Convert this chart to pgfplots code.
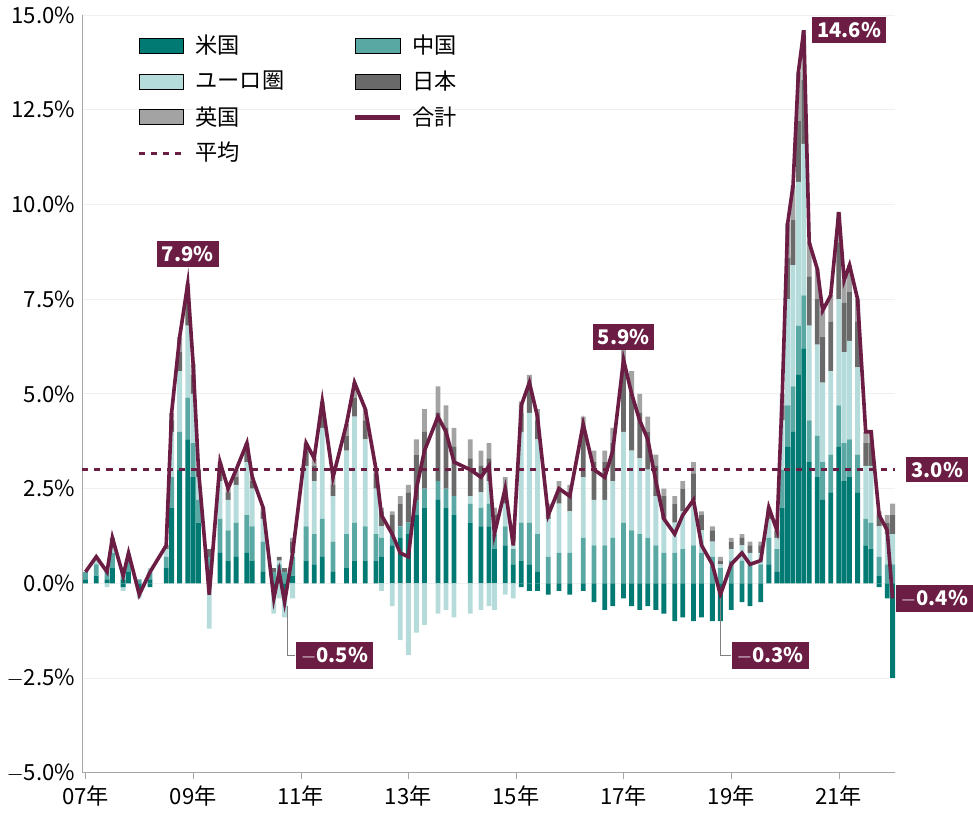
\documentclass[border=0pt]{standalone}
\usepackage{pgfplots}
\usepackage{pgfplotstable}
\pgfplotsset{compat=1.18}
\usepackage{fontspec}
\setmainfont{Noto Sans CJK JP}
\definecolor{cus}{HTML}{007A73}
\definecolor{ccn}{HTML}{5AA8A4}
\definecolor{ceu}{HTML}{B5DCDB}
\definecolor{cjp}{HTML}{6A6A6A}
\definecolor{cuk}{HTML}{A3A3A3}
\definecolor{ctot}{HTML}{6B1D44}
\pgfplotstableread{
x us cn eu jp uk usn eun
2007.0 0.1 0.2 0 0 0 0 0
2007.2 0.2 0.3 0.2 0 0 0 0
2007.4 0.1 0.2 0.1 0 0 0 -0.1
2007.5 0.4 0.4 0.3 0.1 0 0 0
2007.7 0.1 0.2 0.1 0 0 -0.1 -0.1
2007.8 0.3 0.3 0.2 0 0 0 0
2008.0 0 0.1 0 0 0 -0.2 -0.2
2008.2 0.1 0.2 0.1 0 0 -0.1 0
2008.5 0.4 0.3 0.2 0.1 0 0 0
2008.6 2.0 0.8 1.2 0.3 0.2 0 0
2008.75 3.0 1.0 1.6 0.5 0.4 0 0
2008.9 3.8 1.1 1.9 0.6 0.5 0 0
2009.0 2.8 0.9 1.3 0.5 0.3 0 0
2009.1 1.6 0.6 0.6 0.2 0 0 0
2009.3 0.3 0.4 0 0.2 0 0 -1.2
2009.5 0.8 0.9 1.0 0.3 0.2 0 0
2009.65 0.6 0.8 0.8 0.2 0.1 0 0
2009.8 0.7 0.9 1.0 0.2 0.2 0 0
2010.0 0.8 1.0 1.4 0.3 0.2 0 0
2010.1 0.6 0.9 1.0 0.2 0.1 0 0
2010.3 0.3 0.8 0.6 0.2 0.1 0 0
2010.5 0 0.3 0 0.1 0 -0.2 -0.6
2010.6 0.1 0.4 0.1 0.1 0 0 -0.4
2010.7 0 0.3 0 0.1 0 -0.2 -0.7
2010.85 0.2 0.5 0.1 0.3 0.1 0 -0.4
2011.1 0.6 0.9 1.6 0.4 0.2 0 0
2011.25 0.5 0.8 1.4 0.4 0.2 0 0
2011.4 0.7 1.0 2.4 0.4 0.3 0 0
2011.6 0.3 0.8 1.2 0.3 0.2 0 0
2011.85 0.4 0.9 2.2 0.4 0.3 0 0
2012.0 0.6 1.0 2.8 0.5 0.4 0 0
2012.2 0.6 0.9 2.3 0.5 0.3 0 0
2012.4 0.6 0.7 1.2 0.4 0.1 0 0
2012.5 0.7 0.5 0.3 0.4 0.1 0 -0.2
2012.7 1.0 0.3 0 0.5 0.1 0 -0.6
2012.85 1.2 0.3 0 0.6 0.2 0 -1.5
2013.0 1.3 0.3 0 0.8 0.2 0 -1.9
2013.15 1.8 0.4 0 1.2 0.4 0 -1.3
2013.3 2.0 0.5 0 1.5 0.6 0 -1.1
2013.55 2.2 0.5 0 1.8 0.7 0 -0.8
2013.7 2.0 0.5 0 1.6 0.6 0 -0.7
2013.85 1.8 0.5 0 1.3 0.5 0 -0.9
2014.15 1.6 0.5 0.2 1.0 0.5 0 -0.8
2014.35 1.5 0.5 0.4 0.7 0.4 0 -0.7
2014.5 1.5 0.6 0.6 0.6 0.4 0 -0.6
2014.6 0.9 0.4 0.2 0.3 0.2 0 -0.7
2014.8 1.0 0.5 0.6 0.4 0.3 0 -0.3
2014.95 0.5 0.4 0.2 0.2 0.1 0 -0.4
2015.1 0.6 1.0 2.4 0.5 0.3 -0.1 0
2015.25 0.5 1.1 2.9 0.6 0.4 -0.2 0
2015.4 0.3 1.0 2.5 0.5 0.3 -0.2 0
2015.6 0 0.7 1.0 0.3 0.1 -0.3 0
2015.8 0 0.8 1.3 0.4 0.2 -0.2 0
2016.0 0 0.8 1.1 0.5 0.2 -0.3 0
2016.25 0 1.2 1.6 1.2 0.4 -0.2 0
2016.45 0 1.0 1.2 1.0 0.3 -0.5 0
2016.65 0 1.0 1.2 1.0 0.3 -0.7 0
2016.8 0 1.2 1.5 1.0 0.4 -0.6 0
2017.0 0 1.6 2.4 1.6 0.7 -0.4 0
2017.15 0 1.4 2.1 1.5 0.6 -0.6 0
2017.3 0 1.3 2.0 1.2 0.5 -0.7 0
2017.45 0 1.2 1.8 1.0 0.4 -0.6 0
2017.6 0 1.0 1.3 0.8 0.3 -0.7 0
2017.75 0 0.8 0.9 0.6 0.2 -0.8 0
2017.95 0 0.8 0.8 0.5 0.2 -1.0 0
2018.1 0 0.9 1.0 0.6 0.2 -0.9 0
2018.3 0 1.0 1.2 0.7 0.3 -1.0 0
2018.45 0 0.8 0.6 0.4 0.1 -0.9 0
2018.65 0 0.7 0.4 0.3 0.1 -1.0 0
2018.8 0 0.4 0.1 0.1 0.1 -1.0 0
2019.0 0 0.6 0.3 0.2 0.1 -0.7 0
2019.2 0 0.6 0.4 0.2 0.1 -0.5 0
2019.35 0 0.5 0.3 0.2 0.1 -0.6 0
2019.55 0 0.5 0.3 0.2 0.1 -0.5 0
2019.7 0.5 0.7 0.5 0.2 0.1 0 0
2019.85 0.3 0.6 0.3 0.2 0 0 0
2019.95 2.0 1.0 1.3 0.4 0.3 0 0
2020.05 3.6 1.1 2.8 1.1 0.9 0 0
2020.15 4.0 1.2 3.2 1.2 0.9 0 0
2020.25 5.5 1.3 3.8 1.6 1.3 0 0
2020.35 6.2 1.4 4.0 1.7 1.3 0 0
2020.45 3.2 1.1 2.5 1.3 0.9 0 0
2020.6 2.8 1.1 2.4 1.2 0.8 0 0
2020.7 2.2 1.0 2.1 1.2 0.7 0 0
2020.85 2.4 1.0 2.2 1.3 0.7 0 0
2021.0 3.6 1.1 2.8 1.5 0.8 0 0
2021.1 2.7 1.0 2.4 1.3 0.6 0 0
2021.2 2.8 1.0 2.6 1.3 0.7 0 0
2021.35 2.4 1.0 2.3 1.2 0.6 0 0
2021.5 1.0 0.7 1.4 0.6 0.3 0 0
2021.6 0.9 0.7 1.5 0.6 0.3 0 0
2021.75 0.2 0.5 0.8 0.3 0.1 -0.1 0
2021.9 0 0.5 0.8 0.3 0.2 -0.4 0
2022.0 0 0.5 0.8 0.5 0.3 -2.5 0
}\data
\pgfplotsset{base/.style={
  scale only axis, width=403pt, height=375.5pt,
  xmin=2006.94, xmax=2022.05, ymin=-5, ymax=15,
  clip=false}}
\begin{document}
\begin{tikzpicture}
\begin{axis}[base,
  axis x line*=bottom, axis y line*=left,
  axis line style={gray!70},
  xtick={2007,2009,...,2021},
  xticklabels={07年,09年,11年,13年,15年,17年,19年,21年},
  ytick={-5,-2.5,0,2.5,5,7.5,10,12.5,15},
  yticklabels={$-$5.0\%,$-$2.5\%,0.0\%,2.5\%,5.0\%,7.5\%,10.0\%,12.5\%,15.0\%},
  ymajorgrids, grid style={gray!12},
  tick style={gray!70}, ytick style={draw=none},
  tick label style={font=\fontsize{11}{13}\selectfont},
  xtick align=outside, major tick length=3pt,
  ybar stacked, bar width=2.4pt]
\addplot[fill=cus, draw=none] table[x=x,y=us]{\data};
\addplot[fill=ccn, draw=none] table[x=x,y=cn]{\data};
\addplot[fill=ceu, draw=none] table[x=x,y=eu]{\data};
\addplot[fill=cjp, draw=none] table[x=x,y=jp]{\data};
\addplot[fill=cuk, draw=none] table[x=x,y=uk]{\data};
\end{axis}
\begin{axis}[base, hide axis, ybar stacked, bar width=2.4pt]
\addplot[fill=cus, draw=none] table[x=x,y=usn]{\data};
\addplot[fill=ceu, draw=none] table[x=x,y=eun]{\data};
\end{axis}
\begin{axis}[base, hide axis,
  legend style={at={(0.06,0.985)}, anchor=north west, draw=none, fill=none,
    font=\fontsize{11}{13}\selectfont, column sep=3pt, row sep=3pt,
    /tikz/every even column/.append style={column sep=32pt}},
  legend image post style={scale=1.3},
  legend columns=2, legend cell align=left]
\addlegendimage{area legend, fill=cus, draw=none}\addlegendentry{米国}
\addlegendimage{area legend, fill=ccn, draw=none}\addlegendentry{中国}
\addlegendimage{area legend, fill=ceu, draw=none}\addlegendentry{ユーロ圏}
\addlegendimage{area legend, fill=cjp, draw=none}\addlegendentry{日本}
\addlegendimage{area legend, fill=cuk, draw=none}\addlegendentry{英国}
\addlegendimage{ctot, line width=2.4pt}\addlegendentry{合計}
\addlegendimage{ctot, line width=1.6pt, dashed}\addlegendentry{平均}
\addplot[ctot, line width=1.8pt, forget plot] table[x=x, y expr=\thisrow{us}+\thisrow{cn}+\thisrow{eu}+\thisrow{jp}+\thisrow{uk}+\thisrow{usn}+\thisrow{eun}]{\data};
\addplot[ctot, line width=1.2pt, dashed, forget plot] coordinates {(2006.94,3.0) (2022.05,3.0)};
\tikzset{lab/.style={fill=ctot, text=white, font=\bfseries\fontsize{10}{12}\selectfont, inner sep=2.5pt}}
\node[lab] at (axis cs:2008.9,8.7) {7.9\%};
\node[lab] at (axis cs:2017.0,6.5) {5.9\%};
\node[lab, anchor=west] at (axis cs:2020.5,14.6) {14.6\%};
\node[lab, anchor=west] at (axis cs:2022.25,3.0) {3.0\%};
\node[lab, anchor=west] at (axis cs:2022.05,-0.4) {$-$0.4\%};
\draw[gray] (axis cs:2010.75,-0.6) -- (axis cs:2010.75,-1.9) -- (axis cs:2010.9,-1.9);
\node[lab, anchor=west] at (axis cs:2010.9,-1.9) {$-$0.5\%};
\draw[gray] (axis cs:2018.8,-0.4) -- (axis cs:2018.8,-1.9) -- (axis cs:2019.0,-1.9);
\node[lab, anchor=west] at (axis cs:2019.0,-1.9) {$-$0.3\%};
\end{axis}
\end{tikzpicture}
\end{document}
